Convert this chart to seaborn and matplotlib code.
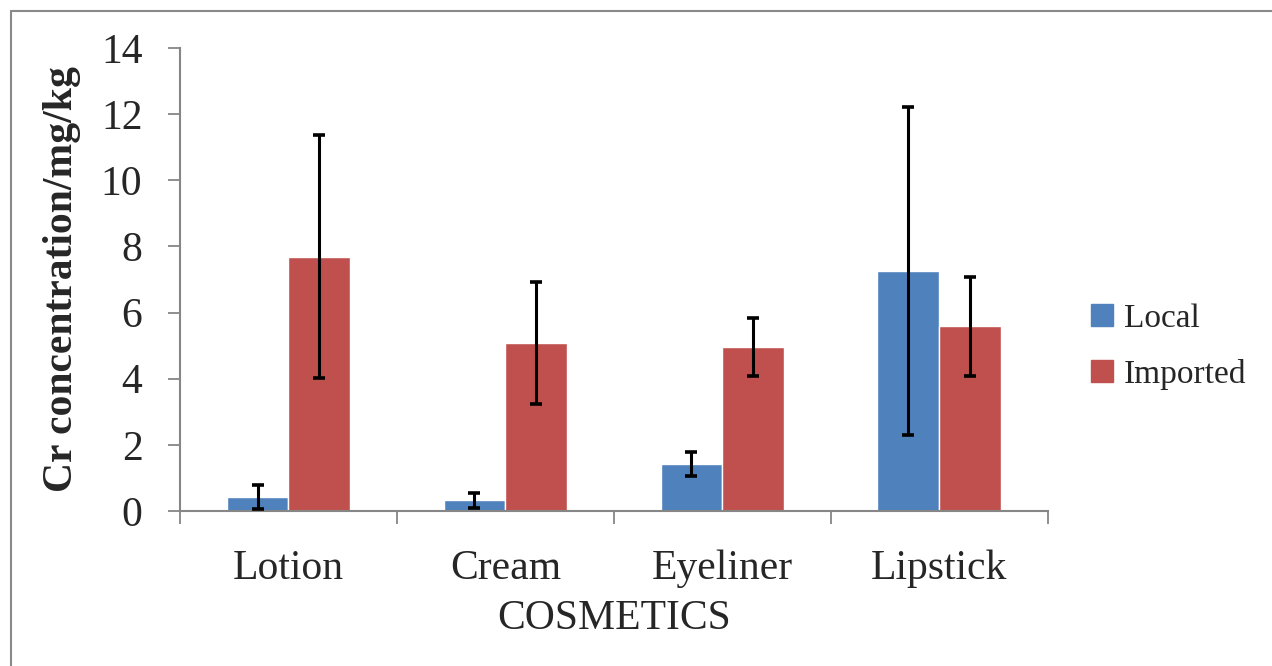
import pandas as pd
import matplotlib.pyplot as plt
import seaborn as sns
import numpy as np
from matplotlib.lines import Line2D

# data
cosmetics = ['Lotion', 'Cream', 'Eyeliner', 'Lipstick']
local = [0.42, 0.32, 1.42, 7.26]
local_err = [0.37, 0.23, 0.36, 4.96]
imported = [7.69, 5.07, 4.95, 5.58]
imported_err = [3.68, 1.84, 0.88, 1.51]

df = pd.DataFrame({
    'Cosmetic': cosmetics * 2,
    'Origin': ['Local'] * 4 + ['Imported'] * 4,
    'Conc': local + imported,
    'Err': local_err + imported_err,
})

sns.set_theme(style='white')
plt.rcParams['font.family'] = ['Liberation Serif', 'DejaVu Serif']

fig = plt.figure(figsize=(12.72, 6.66), dpi=100)
ax = fig.add_axes([0.1415, 0.2327, 0.6822, 0.6953])

sns.barplot(data=df, x='Cosmetic', y='Conc', hue='Origin',
            palette=['#4F81BD', '#C0504D'], width=0.57, gap=0,
            saturation=1, errorbar=None, ax=ax, legend=False)

# error bars at bar centres
for cont, errs in zip(ax.containers, [local_err, imported_err]):
    xs = [p.get_x() + p.get_width() / 2 for p in cont]
    ys = [p.get_height() for p in cont]
    ax.errorbar(xs, ys, yerr=errs, fmt='none', ecolor='black',
                elinewidth=2.2, capsize=4.5, capthick=2.6, zorder=5)

ax.set_xlim(-0.5, 3.5)
ax.set_ylim(0, 14)
ax.set_yticks(np.arange(0, 15, 2))
ax.set_xticks(np.arange(-0.5, 4, 1), minor=False)
ax.set_xticklabels([])
ax.set_xticks(range(4), minor=True)
ax.set_xticklabels(cosmetics, minor=True)
ax.tick_params(axis='x', which='major', length=9, width=1.3,
               color='#868686', direction='out', bottom=True)
ax.tick_params(axis='x', which='minor', length=0, pad=28, labelsize=30)
ax.tick_params(axis='y', length=9, width=1.3, color='#868686',
               direction='out', left=True, pad=18, labelsize=30)

for s in ['top', 'right']:
    ax.spines[s].set_visible(False)
for s in ['left', 'bottom']:
    ax.spines[s].set_color('#868686')
    ax.spines[s].set_linewidth(1.5)

ax.set_xlabel('COSMETICS', fontsize=30, labelpad=8)
ax.set_ylabel('Cr concentration/mg/kg', fontsize=30, fontweight='bold',
              labelpad=14)

handles = [plt.Rectangle((0, 0), 1, 1, color='#4F81BD'),
           plt.Rectangle((0, 0), 1, 1, color='#C0504D')]
fig.legend(handles, ['Local', 'Imported'], loc='center left',
           bbox_to_anchor=(0.834, 0.48), frameon=False, fontsize=24,
           handlelength=0.65, handleheight=0.65, handletextpad=0.35,
           labelspacing=0.75)

# outer chart frame
fig.add_artist(Line2D([0.00865, 0.00865], [0, 0.9835], color='#898989',
                      lw=1.5, transform=fig.transFigure))
fig.add_artist(Line2D([0.00865, 1], [0.9835, 0.9835], color='#898989',
                      lw=1.5, transform=fig.transFigure))

fig.savefig('out.png', dpi=100)
